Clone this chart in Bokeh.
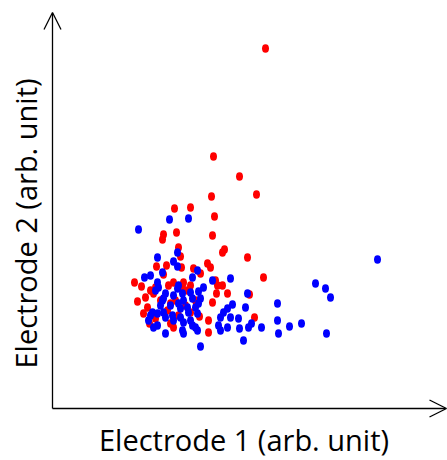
import math
from bokeh.plotting import figure
from bokeh.models import Range1d, Arrow, OpenHead, Label
from bokeh.embed import file_html
from bokeh.resources import INLINE

# Data (arbitrary units)
red_px = [(265,48),(213,156),(239,176),(256,194),(211,196),(174,208),(190,207),(214,216),(163,234),(162,239),
          (176,232),(212,235),(178,247),(180,256),(222,252),(224,249),(247,257),(263,277),(156,266),(166,265),
          (163,274),(181,267),(193,268),(200,273),(207,263),(210,267),(134,282),(141,286),(137,301),(145,297),
          (147,307),(143,313),(149,323),(153,293),(155,287),(150,290),(168,285),(173,282),(183,282),(182,287),
          (187,290),(190,285),(215,280),(217,285),(222,285),(227,293),(216,293),(212,302),(249,294),(208,320),
          (208,332),(254,317),(170,323),(173,327),(167,310),(170,303),(199,316),(160,300),(175,300),(185,305),
          (195,300),(155,318),(178,315),(190,312)]
blue_px = [(377,259),(138,229),(169,219),(188,218),(157,257),(177,252),(173,261),(177,266),(162,272),(150,275),
           (144,277),(157,282),(158,287),(155,290),(197,270),(192,277),(212,280),(230,278),(203,287),(198,291),
           (178,285),(177,288),(165,293),(163,298),(173,295),(182,293),(183,300),(190,292),(192,298),(200,298),
           (198,303),(247,293),(162,300),(160,305),(170,305),(178,303),(180,308),(187,307),(188,312),(195,307),
           (197,313),(152,312),(150,315),(148,320),(157,313),(163,312),(165,317),(172,315),(173,320),(180,317),
           (183,322),(190,320),(192,325),(195,327),(197,330),(153,327),(157,325),(165,333),(182,330),(183,333),
           (200,346),(232,304),(227,308),(223,312),(220,317),(218,325),(220,330),(230,317),(238,318),(227,327),
           (239,328),(243,340),(245,307),(251,323),(248,327),(261,327),(277,303),(277,320),(278,333),(289,326),
           (301,323),(315,283),(325,288),(330,297),(326,333)]

red_x = [a - 52 for a, b in red_px]
red_y = [408 - b for a, b in red_px]
blue_x = [a - 52 for a, b in blue_px]
blue_y = [408 - b for a, b in blue_px]

x_label = "Electrode 1 (arb. unit)"
y_label = "Electrode 2 (arb. unit)"

XMAX = 394
YMAX = 396

p = figure(width=447, height=460, output_backend="svg", toolbar_location=None,
           x_range=Range1d(-52, 395), y_range=Range1d(-52, 408),
           min_border=0)
p.outline_line_color = None
p.grid.visible = False
p.axis.visible = False
p.background_fill_color = "white"

p.ellipse(red_x, red_y, width=7, height=8.5, width_units="screen", height_units="screen",
          fill_color="#ff0000", line_color=None)
p.ellipse(blue_x, blue_y, width=7, height=8.5, width_units="screen", height_units="screen",
          fill_color="#0000ff", line_color=None)

p.add_layout(Arrow(x_start=0, y_start=0, x_end=XMAX, y_end=0, line_width=1.3, line_color="black",
                   end=OpenHead(size=17, line_width=1.3, line_color="black")))
p.add_layout(Arrow(x_start=0, y_start=0, x_end=0, y_end=YMAX, line_width=1.3, line_color="black",
                   end=OpenHead(size=17, line_width=1.3, line_color="black")))

p.add_layout(Label(x=191.5, y=-31, text=x_label, text_align="center", text_baseline="alphabetic",
                   text_font="Open Sans", text_font_size="29px", text_color="black"))
p.add_layout(Label(x=-27, y=185, text=y_label, text_align="center", text_baseline="alphabetic",
                   angle=math.pi / 2, text_font="Open Sans", text_font_size="29px", text_color="black"))

open("out.html", "w").write(file_html(p, INLINE))
